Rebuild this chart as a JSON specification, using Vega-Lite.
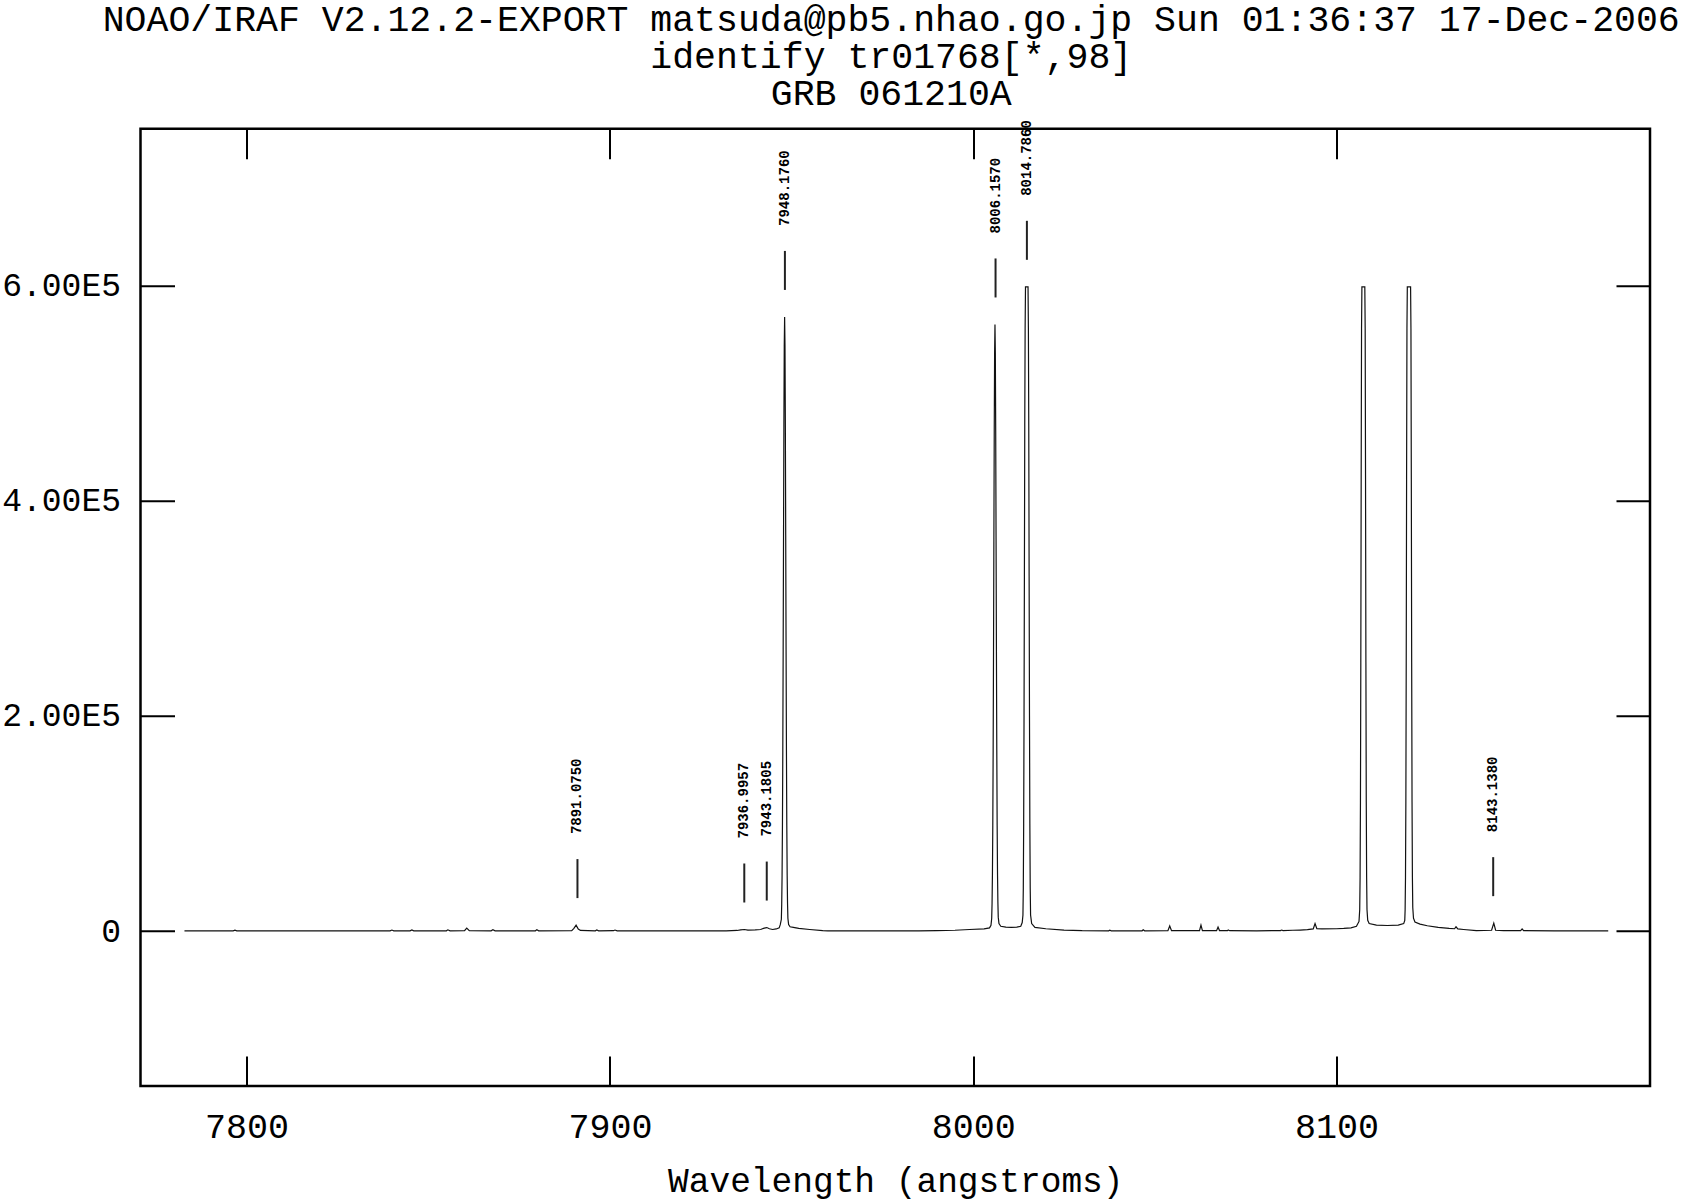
{
  "$schema": "https://vega.github.io/schema/vega-lite/v6.json",
  "autosize": "none",
  "width": 1509.5,
  "height": 957.3,
  "padding": {"left": 140.5, "top": 128.7, "right": 32, "bottom": 116},
  "background": "white",
  "title": {
    "text": ["NOAO/IRAF V2.12.2-EXPORT matsuda@pb5.nhao.go.jp Sun 01:36:37 17-Dec-2006", "identify tr01768[*,98]", "GRB 061210A"],
    "font": "Liberation Mono",
    "fontSize": 36.5,
    "fontWeight": "normal",
    "color": "black",
    "anchor": "middle",
    "frame": "group",
    "lineHeight": 37,
    "offset": 8,
    "dx": -4
  },
  "config": {
    "view": {"stroke": "black", "strokeWidth": 2.5},
    "axis": {
      "grid": false,
      "domain": false,
      "tickColor": "black",
      "tickWidth": 2,
      "labelFont": "Liberation Mono",
      "labelFontSize": 35,
      "labelColor": "black",
      "titleFont": "Liberation Mono",
      "titleFontSize": 34.5,
      "titleFontWeight": "normal",
      "titleColor": "black"
    }
  },
  "datasets": {
    "spec": [
      {"w": 7782.9, "f": 200}, {"w": 7790, "f": 200}, {"w": 7796.3, "f": 200}, {"w": 7796.8, "f": 900}, {"w": 7797.3, "f": 200},
      {"w": 7810, "f": 200}, {"w": 7825, "f": 200}, {"w": 7839.5, "f": 200}, {"w": 7840.0, "f": 1000}, {"w": 7840.5, "f": 300},
      {"w": 7845.0, "f": 300}, {"w": 7845.5, "f": 1100}, {"w": 7846.0, "f": 300}, {"w": 7855.0, "f": 300}, {"w": 7855.4, "f": 1200},
      {"w": 7856.0, "f": 300}, {"w": 7860.0, "f": 400}, {"w": 7860.6, "f": 2800}, {"w": 7861.3, "f": 400}, {"w": 7867.3, "f": 300},
      {"w": 7867.8, "f": 1300}, {"w": 7868.4, "f": 300}, {"w": 7879.5, "f": 300}, {"w": 7879.9, "f": 1200}, {"w": 7880.4, "f": 300},
      {"w": 7889.5, "f": 500}, {"w": 7890.1, "f": 2500}, {"w": 7890.7, "f": 5600}, {"w": 7891.3, "f": 2000}, {"w": 7891.9, "f": 600},
      {"w": 7896.0, "f": 300}, {"w": 7896.4, "f": 1000}, {"w": 7896.9, "f": 300}, {"w": 7901.0, "f": 400}, {"w": 7901.4, "f": 1000},
      {"w": 7902.0, "f": 300}, {"w": 7910, "f": 300}, {"w": 7920, "f": 300}, {"w": 7932, "f": 300}, {"w": 7935.0, "f": 600},
      {"w": 7936.0, "f": 1200}, {"w": 7937.0, "f": 1500}, {"w": 7938.0, "f": 1000}, {"w": 7940.0, "f": 1200}, {"w": 7941.5, "f": 1500},
      {"w": 7942.5, "f": 2800}, {"w": 7943.2, "f": 3300}, {"w": 7943.9, "f": 2200}, {"w": 7944.8, "f": 1500}, {"w": 7945.8, "f": 2000},
      {"w": 7946.6, "f": 3000}, {"w": 7946.9, "f": 6000}, {"w": 7947.2, "f": 11000}, {"w": 7947.3, "f": 25000}, {"w": 7947.4, "f": 52000},
      {"w": 7947.5, "f": 98000}, {"w": 7947.6, "f": 168000}, {"w": 7947.7, "f": 262000}, {"w": 7947.8, "f": 368000}, {"w": 7947.9, "f": 470000},
      {"w": 7948.0, "f": 544000}, {"w": 7948.1, "f": 571000}, {"w": 7948.2, "f": 544000}, {"w": 7948.3, "f": 470000}, {"w": 7948.4, "f": 368000},
      {"w": 7948.5, "f": 262000}, {"w": 7948.6, "f": 168000}, {"w": 7948.7, "f": 98000}, {"w": 7948.8, "f": 52000}, {"w": 7948.9, "f": 26000},
      {"w": 7949.0, "f": 12000}, {"w": 7949.2, "f": 6000}, {"w": 7949.6, "f": 4000}, {"w": 7950.5, "f": 3500}, {"w": 7952.0, "f": 2500},
      {"w": 7955.0, "f": 1500}, {"w": 7958.6, "f": 500}, {"w": 7960, "f": 300}, {"w": 7985, "f": 300}, {"w": 7990, "f": 500},
      {"w": 7995, "f": 800}, {"w": 7999, "f": 1500}, {"w": 8003, "f": 2000}, {"w": 8004.5, "f": 3000}, {"w": 8004.9, "f": 5500},
      {"w": 8005.1, "f": 12000}, {"w": 8005.2, "f": 26000}, {"w": 8005.3, "f": 53000}, {"w": 8005.4, "f": 98000}, {"w": 8005.5, "f": 168000},
      {"w": 8005.6, "f": 260000}, {"w": 8005.7, "f": 365000}, {"w": 8005.8, "f": 465000}, {"w": 8005.9, "f": 537000}, {"w": 8006.0, "f": 564000},
      {"w": 8006.1, "f": 537000}, {"w": 8006.2, "f": 465000}, {"w": 8006.3, "f": 365000}, {"w": 8006.4, "f": 260000}, {"w": 8006.5, "f": 168000},
      {"w": 8006.6, "f": 98000}, {"w": 8006.7, "f": 53000}, {"w": 8006.8, "f": 27000}, {"w": 8006.9, "f": 13000}, {"w": 8007.1, "f": 7000},
      {"w": 8007.6, "f": 4500}, {"w": 8009.0, "f": 3700}, {"w": 8010.5, "f": 3500}, {"w": 8012.0, "f": 3700}, {"w": 8013.1, "f": 4500},
      {"w": 8013.5, "f": 8000}, {"w": 8013.7, "f": 15000}, {"w": 8013.8, "f": 40000}, {"w": 8013.9, "f": 100000}, {"w": 8014.0, "f": 200000},
      {"w": 8014.1, "f": 330000}, {"w": 8014.2, "f": 470000}, {"w": 8014.3, "f": 560000}, {"w": 8014.4, "f": 599000}, {"w": 8015.1, "f": 599000},
      {"w": 8015.2, "f": 560000}, {"w": 8015.3, "f": 470000}, {"w": 8015.4, "f": 330000}, {"w": 8015.5, "f": 200000}, {"w": 8015.6, "f": 100000},
      {"w": 8015.7, "f": 40000}, {"w": 8015.8, "f": 15000}, {"w": 8016.1, "f": 7000}, {"w": 8017.0, "f": 3500}, {"w": 8020.0, "f": 2200},
      {"w": 8025.0, "f": 1000}, {"w": 8030.0, "f": 400}, {"w": 8037.3, "f": 300}, {"w": 8037.6, "f": 800}, {"w": 8038.0, "f": 300},
      {"w": 8046.5, "f": 300}, {"w": 8046.8, "f": 1200}, {"w": 8047.2, "f": 300}, {"w": 8053.6, "f": 400}, {"w": 8054.1, "f": 4800},
      {"w": 8054.6, "f": 400}, {"w": 8062.3, "f": 400}, {"w": 8062.7, "f": 5500}, {"w": 8063.1, "f": 400}, {"w": 8067.0, "f": 400},
      {"w": 8067.4, "f": 3800}, {"w": 8067.8, "f": 500}, {"w": 8070.0, "f": 400}, {"w": 8070.2, "f": 1000}, {"w": 8070.6, "f": 400},
      {"w": 8078.0, "f": 300}, {"w": 8084.6, "f": 500}, {"w": 8084.9, "f": 1000}, {"w": 8085.3, "f": 500}, {"w": 8088.0, "f": 800},
      {"w": 8090.0, "f": 1000}, {"w": 8092.0, "f": 1300}, {"w": 8093.6, "f": 2000}, {"w": 8094.1, "f": 7000}, {"w": 8094.6, "f": 2200},
      {"w": 8096.0, "f": 2000}, {"w": 8100.0, "f": 2200}, {"w": 8102.0, "f": 2500}, {"w": 8104.0, "f": 3000}, {"w": 8105.5, "f": 4500},
      {"w": 8106.2, "f": 9000}, {"w": 8106.4, "f": 20000}, {"w": 8106.5, "f": 50000}, {"w": 8106.6, "f": 120000}, {"w": 8106.7, "f": 250000},
      {"w": 8106.8, "f": 420000}, {"w": 8106.9, "f": 560000}, {"w": 8107.0, "f": 599000}, {"w": 8107.8, "f": 599000}, {"w": 8107.9, "f": 560000},
      {"w": 8108.0, "f": 420000}, {"w": 8108.1, "f": 250000}, {"w": 8108.2, "f": 120000}, {"w": 8108.3, "f": 50000}, {"w": 8108.4, "f": 20000},
      {"w": 8108.6, "f": 10000}, {"w": 8109.0, "f": 7000}, {"w": 8111.0, "f": 5500}, {"w": 8114.0, "f": 5200}, {"w": 8117.0, "f": 5500},
      {"w": 8118.5, "f": 7000}, {"w": 8118.8, "f": 10000}, {"w": 8118.9, "f": 20000}, {"w": 8119.0, "f": 50000}, {"w": 8119.1, "f": 120000},
      {"w": 8119.2, "f": 250000}, {"w": 8119.3, "f": 420000}, {"w": 8119.4, "f": 560000}, {"w": 8119.5, "f": 599000}, {"w": 8120.4, "f": 599000},
      {"w": 8120.5, "f": 560000}, {"w": 8120.6, "f": 420000}, {"w": 8120.7, "f": 250000}, {"w": 8120.8, "f": 120000}, {"w": 8120.9, "f": 50000},
      {"w": 8121.0, "f": 22000}, {"w": 8121.2, "f": 12000}, {"w": 8121.6, "f": 8500}, {"w": 8123.0, "f": 6500}, {"w": 8125.0, "f": 5000},
      {"w": 8128.0, "f": 3500}, {"w": 8131.0, "f": 2500}, {"w": 8132.5, "f": 2200}, {"w": 8132.9, "f": 4000}, {"w": 8133.4, "f": 2000},
      {"w": 8135.0, "f": 1500}, {"w": 8138.5, "f": 500}, {"w": 8142.7, "f": 800}, {"w": 8143.3, "f": 7400}, {"w": 8143.8, "f": 800},
      {"w": 8146.0, "f": 400}, {"w": 8150.7, "f": 400}, {"w": 8151.1, "f": 2000}, {"w": 8151.5, "f": 400}, {"w": 8160.0, "f": 300},
      {"w": 8174.8, "f": 300}
    ],
    "ids": [
      {"w": 7891.075, "level": 5600, "label": "7891.0750"},
      {"w": 7936.9957, "level": 1500, "label": "7936.9957"},
      {"w": 7943.1805, "level": 3300, "label": "7943.1805"},
      {"w": 7948.176, "level": 571000, "label": "7948.1760"},
      {"w": 8006.157, "level": 564000, "label": "8006.1570"},
      {"w": 8014.786, "level": 599000, "label": "8014.7860"},
      {"w": 8143.138, "level": 7400, "label": "8143.1380"}
    ]
  },
  "resolve": {"axis": {"x": "independent", "y": "independent"}},
  "layer": [
    {
      "data": {"name": "spec"},
      "mark": {"type": "line", "color": "#111", "strokeWidth": 1.2, "clip": true},
      "encoding": {
        "x": {"field": "w", "type": "quantitative", "scale": {"domain": [7770.8, 8186.3], "nice": false, "zero": false},
              "axis": {"orient": "bottom", "values": [7800, 7900, 8000, 8100], "tickSize": -30, "labelPadding": 53, "format": "d", "title": "Wavelength (angstroms)", "titlePadding": 20}},
        "y": {"field": "f", "type": "quantitative", "scale": {"domain": [-144000, 746000], "nice": false, "zero": false},
              "axis": {"orient": "left", "values": [0, 200000, 400000, 600000], "tickSize": -34, "labelPadding": 54, "labelFontSize": 33, "labelExpr": "datum.value == 0 ? '0' : format(datum.value / 100000, '.2f') + 'E5'", "title": null}}
      }
    },
    {
      "data": {"name": "ids"},
      "mark": {"type": "rule", "color": "#222", "strokeWidth": 2, "yOffset": -27, "y2Offset": -66},
      "encoding": {
        "x": {"field": "w", "type": "quantitative", "axis": {"orient": "top", "values": [7800, 7900, 8000, 8100], "tickSize": -30, "labels": false, "title": null}},
        "y": {"field": "level", "type": "quantitative", "axis": {"orient": "right", "values": [0, 200000, 400000, 600000], "tickSize": -34, "labels": false, "title": null}},
        "y2": {"field": "level"}
      }
    },
    {
      "data": {"name": "ids"},
      "mark": {"type": "text", "angle": 270, "align": "left", "baseline": "middle", "yOffset": -91, "font": "Liberation Mono", "fontSize": 14, "fontWeight": "bold", "color": "black"},
      "encoding": {
        "x": {"field": "w", "type": "quantitative", "axis": null},
        "y": {"field": "level", "type": "quantitative", "axis": null},
        "text": {"field": "label"}
      }
    }
  ]
}
